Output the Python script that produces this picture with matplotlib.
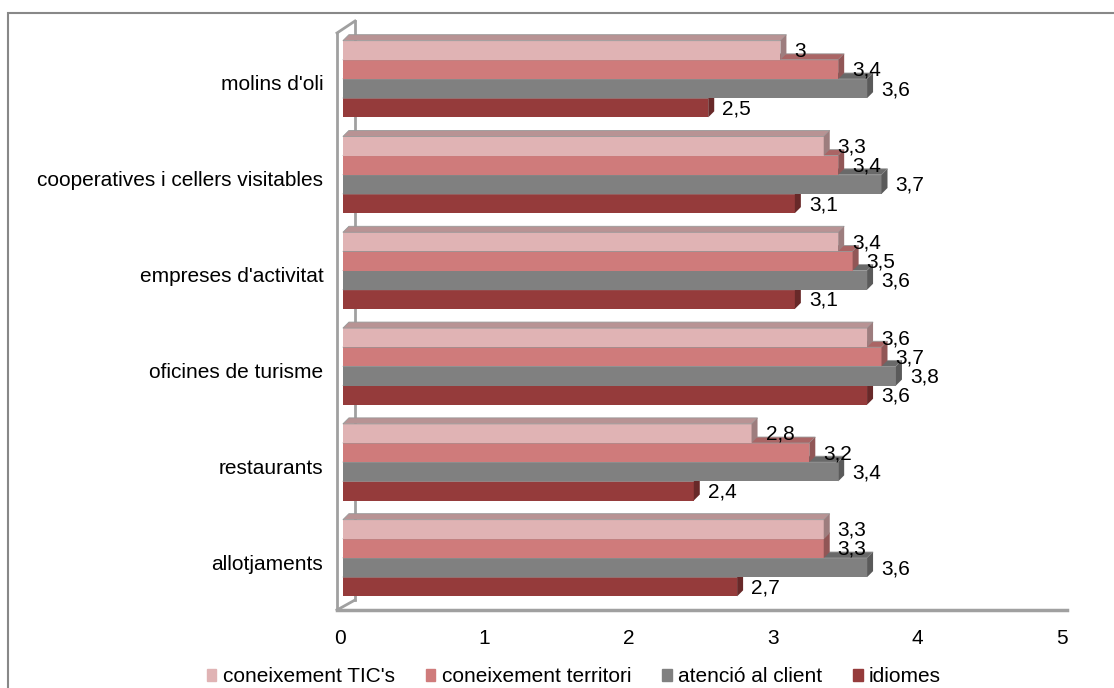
import matplotlib.pyplot as plt
import matplotlib.patches as mpatches
import matplotlib.transforms as mtrans
import numpy as np

plt.rcParams['font.family'] = ['Liberation Sans', 'DejaVu Sans']

# categories, bottom to top as drawn
categories = ['allotjaments', 'restaurants', 'oficines de turisme',
              "empreses d'activitat", 'cooperatives i cellers visitables', "molins d'oli"]
series = ["coneixement TIC's", 'coneixement territori', 'atenció al client', 'idiomes']

tic = [3.3, 2.8, 3.6, 3.4, 3.3, 3.0]
territori = [3.3, 3.2, 3.7, 3.5, 3.4, 3.4]
atencio = [3.6, 3.4, 3.8, 3.6, 3.7, 3.6]
idiomes = [2.7, 2.4, 3.6, 3.1, 3.1, 2.5]

colors = ['#E0B3B4', '#CF7B7B', '#808080', '#953B3B']
values = [tic, territori, atencio, idiomes]


def shade(c, f):
    r, g, b = [int(c[i:i + 2], 16) / 255 for i in (1, 3, 5)]
    return (r * f, g * f, b * f)


fig = plt.figure(figsize=(11.14, 6.88), dpi=100)
ax = fig.add_axes([340 / 1114, (688 - 610) / 688, (1062 - 340) / 1114, (610 - 15) / 688])

ppx = 144.4   # pixels per x unit
ppy = 95.8    # pixels per category
ax.set_xlim(0, 5)
ax.set_ylim(-52 / ppy, 5 + 64 / ppy)

dx = 6 / ppx
dy = 6 / ppy
h = 0.2
x0 = 0.02
wall = '#A0A0A0'
fs = 15

# 3D walls
ax.plot([-3 / ppx, -3 / ppx], [-52 / ppy, 5 + 46 / ppy], color=wall, lw=2, clip_on=False, zorder=1)
ax.plot([15 / ppx, 15 / ppx], [-42 / ppy, 5 + 58 / ppy], color=wall, lw=2, clip_on=False, zorder=2)
ax.plot([-3 / ppx, 15 / ppx], [5 + 46 / ppy, 5 + 58 / ppy], color=wall, lw=2, clip_on=False, zorder=1)
ax.plot([-3 / ppx, 15 / ppx], [-52 / ppy, -42 / ppy], color=wall, lw=2, clip_on=False, zorder=1)
ax.plot([-3 / ppx, 5 + 5 / ppx], [-52 / ppy, -52 / ppy], color=wall, lw=2.5, clip_on=False, zorder=1)

for i in range(len(categories)):
    # draw from the bottom bar of the group (idiomes) to the top one
    for j in range(3, -1, -1):
        v = values[j][i]
        c = i + (1.5 - j) * h
        x1 = x0 + v + 0.03
        col = colors[j]
        z = 3 + (3 - j)
        ax.add_patch(mpatches.Rectangle((x0, c - h / 2), x1 - x0, h, facecolor=col,
                                        edgecolor='none', zorder=z))
        top = [(x0, c + h / 2), (x1, c + h / 2), (x1 + dx, c + h / 2 + dy), (x0 + dx, c + h / 2 + dy)]
        ax.add_patch(mpatches.Polygon(top, facecolor=shade(col, 0.82), edgecolor=(0.6, 0.6, 0.6),
                                      lw=0.6, zorder=z))
        side = [(x1, c - h / 2), (x1 + dx, c - h / 2 + dy), (x1 + dx, c + h / 2 + dy), (x1, c + h / 2)]
        ax.add_patch(mpatches.Polygon(side, facecolor=shade(col, 0.7), edgecolor='none', zorder=z))
        ax.text(x1 + 14 / ppx, c - 1 / ppy, f'{v:g}'.replace('.', ','), fontsize=fs,
                ha='left', va='center', zorder=10)

ax.set_yticks(np.arange(len(categories)))
ax.set_yticklabels(categories, fontsize=fs)
ax.set_xticks(np.arange(0, 6))
ax.set_xticklabels([str(t) for t in range(6)], fontsize=fs)
ax.tick_params(axis='both', length=0)
ax.tick_params(axis='x', pad=14)
ax.tick_params(axis='y', pad=12)
for s in ax.spines.values():
    s.set_visible(False)
ax.patch.set_alpha(0)

# shift category labels a little down
off = mtrans.ScaledTranslation(0, -4 / 100, fig.dpi_scale_trans)
for lab in ax.get_yticklabels():
    lab.set_transform(lab.get_transform() + off)

handles = [mpatches.Patch(color=c) for c in colors]
fig.legend(handles, series, loc='center', bbox_to_anchor=(574 / 1114, 11 / 688), ncol=4,
           frameon=False, fontsize=fs, handlelength=0.45, handleheight=0.45,
           handletextpad=0.3, columnspacing=1.5, borderpad=0)

fig.add_artist(mpatches.Rectangle((8 / 1114, -0.1), 1.2, 1.1 - 13 / 688, transform=fig.transFigure,
                                  fill=False, edgecolor='#888888', lw=1.5))

fig.savefig('out.png', dpi=100)
